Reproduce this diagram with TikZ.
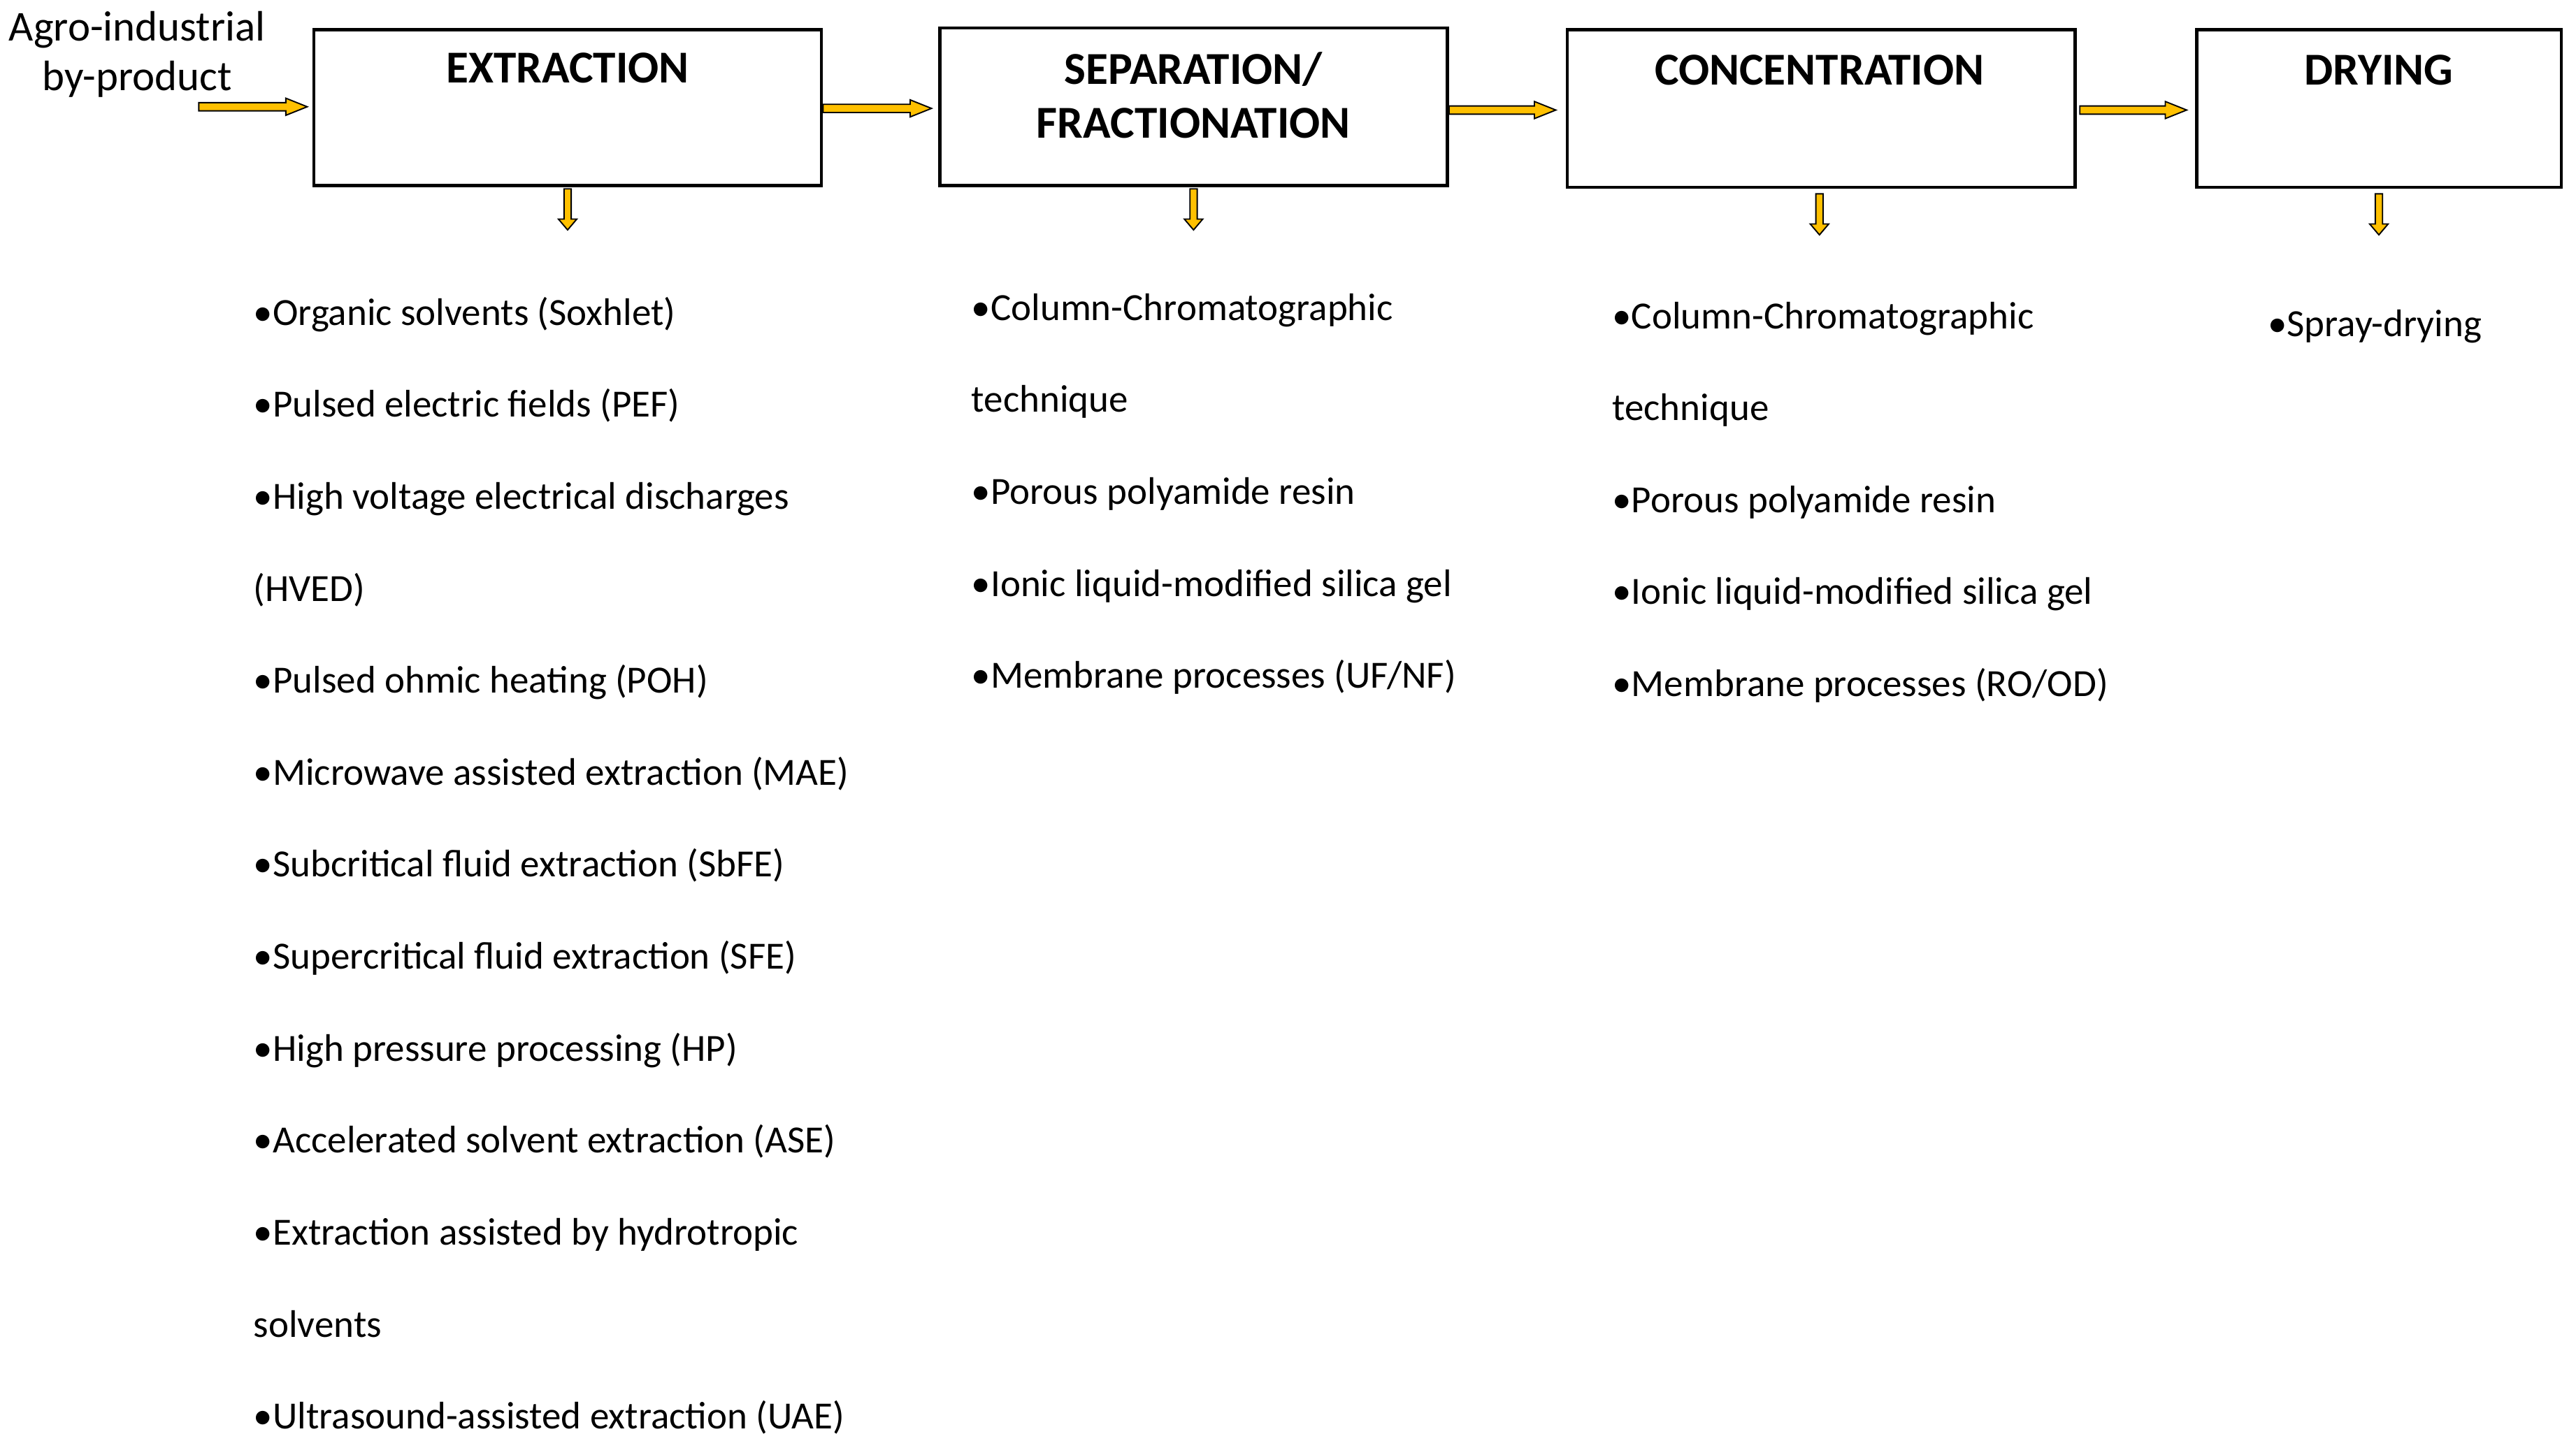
\documentclass[tikz,border=0pt]{standalone}
\usepackage{fontspec}
\setmainfont{Carlito}
\usetikzlibrary{calc}
\definecolor{arrowyellow}{HTML}{FFC000}
\tikzset{
  box/.style={draw=black, line width=1pt, fill=white, rectangle, inner sep=0pt},
  title/.style={font=\fontsize{13.9}{16.5}\selectfont\bfseries, align=center, inner sep=0pt},
  item/.style={font=\fontsize{11.7}{13}\selectfont, anchor=base west, inner sep=0pt},
  blk/.style={draw=black, line width=0.4pt, fill=arrowyellow, line join=miter},
}
\newcommand{\harr}[2]{%
  \draw[blk] let \p1=(#1), \p2=(#2) in
    (\x1,\y1+1.25pt) -- (\x2-6.5pt,\y1+1.25pt) -- (\x2-6.5pt,\y1+2.6pt) -- (\x2,\y1)
    -- (\x2-6.5pt,\y1-2.6pt) -- (\x2-6.5pt,\y1-1.25pt) -- (\x1,\y1-1.25pt) -- cycle;}
\newcommand{\varr}[2]{%
  \draw[blk] let \p1=(#1), \p2=(#2) in
    (\x1-1.1pt,\y1) -- (\x1-1.1pt,\y2+3.3pt) -- (\x1-2.8pt,\y2+3.3pt) -- (\x1,\y2)
    -- (\x1+2.8pt,\y2+3.3pt) -- (\x1+1.1pt,\y2+3.3pt) -- (\x1+1.1pt,\y1) -- cycle;}
\begin{document}
\begin{tikzpicture}[x=0.5pt,y=-0.5pt]
\useasboundingbox (0,0) rectangle (1568,877.4);
\fill[white] (0,0) rectangle (1568,877.4);

% boxes
\node[box, minimum width=154.5pt, minimum height=47.5pt] (ext) at (345.5,65.5) {};
\node[box, minimum width=154.5pt, minimum height=48pt] (sep) at (726.5,65) {};
\node[box, minimum width=154.5pt, minimum height=48pt] (conc) at (1108.5,66) {};
\node[box, minimum width=111pt, minimum height=48pt] (dry) at (1448,66) {};

% titles
\node[title] (extT) at (345.5,41.5) {EXTRACTION};
\node[title] (sepT) at (726.5,58) {SEPARATION/\\FRACTIONATION};
\node[title] (concT) at (1107.5,42.5) {CONCENTRATION};
\node[title] (dryT) at (1448,42.5) {DRYING};

% input label
\node[font=\fontsize{12.95}{15}\selectfont, align=center, inner sep=0pt] (input) at (83.5,33) {Agro-industrial\\by-product};

% horizontal arrows
\coordinate (inS) at (121,65);
\coordinate (inE) at (187,65);
\harr{inS}{inE}
\coordinate (a1S) at (501,66);
\coordinate (a1E) at (567,66);
\harr{a1S}{a1E}
\coordinate (a2S) at (882,67);
\coordinate (a2E) at (947,67);
\harr{a2S}{a2E}
\coordinate (a3S) at (1266,67);
\coordinate (a3E) at (1331,67);
\harr{a3S}{a3E}

% down arrows
\coordinate (d1S) at (345.5,115); \coordinate (d1E) at (345.5,140);
\varr{d1S}{d1E}
\coordinate (d2S) at (726.5,115); \coordinate (d2E) at (726.5,140);
\varr{d2S}{d2E}
\coordinate (d3S) at (1107.5,118); \coordinate (d3E) at (1107.5,143);
\varr{d3S}{d3E}
\coordinate (d4S) at (1448,118); \coordinate (d4E) at (1448,143);
\varr{d4S}{d4E}

% lists
\foreach \t [count=\i from 0] in {
  {•Organic solvents (Soxhlet)},
  {•Pulsed electric fields (PEF)},
  {•High voltage electrical discharges},
  {(HVED)},
  {•Pulsed ohmic heating (POH)},
  {•Microwave assisted extraction (MAE)},
  {•Subcritical fluid extraction (SbFE)},
  {•Supercritical fluid extraction (SFE)},
  {•High pressure processing (HP)},
  {•Accelerated solvent extraction (ASE)},
  {•Extraction assisted by hydrotropic},
  {solvents},
  {•Ultrasound-assisted extraction (UAE)}}
  \node[item] (e\i) at (154,198+56*\i) {\t};

\foreach \t [count=\i from 0] in {
  {•Column-Chromatographic},
  {technique},
  {•Porous polyamide resin},
  {•Ionic liquid-modified silica gel},
  {•Membrane processes (UF/NF)}}
  \node[item] (s\i) at (591,195+56*\i) {\t};

\foreach \t [count=\i from 0] in {
  {•Column-Chromatographic},
  {technique},
  {•Porous polyamide resin},
  {•Ionic liquid-modified silica gel},
  {•Membrane processes (RO/OD)}}
  \node[item] (c\i) at (981,200+56*\i) {\t};

\node[item] (d0) at (1380,205) {•Spray-drying};
\end{tikzpicture}
\end{document}
